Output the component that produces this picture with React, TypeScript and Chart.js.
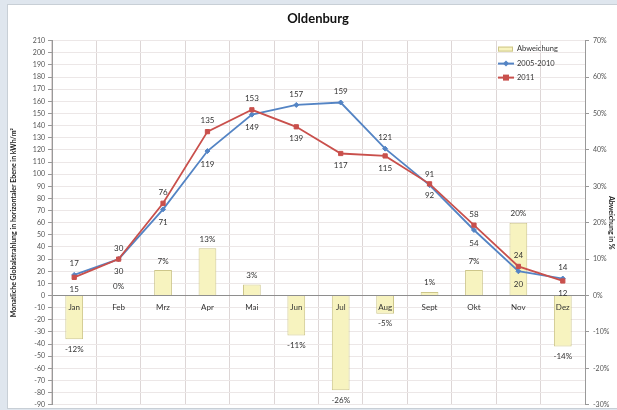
import React, { useEffect, useRef } from "react";
import { Chart, registerables } from "chart.js";

Chart.register(...registerables);

const months = ["Jan", "Feb", "Mrz", "Apr", "Mai", "Jun", "Jul", "Aug", "Sept", "Okt", "Nov", "Dez"];
const mittel20052010 = [17, 30, 71, 119, 149, 157, 159, 121, 91, 54, 20, 14];
const jahr2011 = [15, 30, 76, 135, 153, 139, 117, 115, 92, 58, 24, 12];
const abweichung = [-12, 0, 7, 13, 3, -11, -26, -5, 1, 7, 20, -14];

const leftMin = -90;
const leftMax = 210;
const rightMin = -30;
const rightMax = 70;

const FONT = "Lato, 'Open Sans', sans-serif";
const BLUE = "#5484c4";
const RED = "#c9504c";
const BAR_FILL = "#f7f3bf";
const BAR_BORDER = "#cdc68a";

const labelPlugin = {
  id: "valueLabels",
  afterDatasetsDraw(chart: any) {
    const ctx = chart.ctx;
    const barMeta = chart.getDatasetMeta(0);
    const blueMeta = chart.getDatasetMeta(1);
    const redMeta = chart.getDatasetMeta(2);
    ctx.save();
    ctx.font = `8px ${FONT}`;
    ctx.fillStyle = "#333";
    ctx.textAlign = "center";
    ctx.textBaseline = "middle";
    months.forEach((_, i) => {
      const b = mittel20052010[i];
      const r = jahr2011[i];
      const blueAbove = b + 1 >= r;
      const bp = blueMeta.data[i];
      const rp = redMeta.data[i];
      ctx.fillText(String(b), bp.x, bp.y + (blueAbove ? -11 : 13));
      ctx.fillText(String(r), rp.x, rp.y + (blueAbove ? 12 : -11));
      const bar = barMeta.data[i];
      const v = abweichung[i];
      ctx.fillText(v + "%", bar.x, v >= 0 ? bar.y - 9 : bar.y + 10);
    });
    ctx.restore();
  },
};

const legendPlugin = {
  id: "innerLegend",
  afterDraw(chart: any) {
    const ctx = chart.ctx;
    const lx = chart.chartArea.right - 87;
    const ly = chart.chartArea.top + 8;
    ctx.save();
    ctx.font = `7.5px ${FONT}`;
    ctx.fillStyle = "#333";
    ctx.textAlign = "left";
    ctx.textBaseline = "middle";
    // Abweichung
    ctx.fillStyle = BAR_FILL;
    ctx.fillRect(lx, ly - 2, 15, 5);
    ctx.strokeStyle = BAR_BORDER;
    ctx.lineWidth = 1;
    ctx.strokeRect(lx + 0.5, ly - 1.5, 14, 4);
    ctx.fillStyle = "#333";
    ctx.fillText("Abweichung", lx + 19, ly);
    // 2005-2010
    const y2 = ly + 15;
    ctx.strokeStyle = BLUE;
    ctx.lineWidth = 2;
    ctx.beginPath();
    ctx.moveTo(lx, y2);
    ctx.lineTo(lx + 16, y2);
    ctx.stroke();
    ctx.fillStyle = BLUE;
    ctx.beginPath();
    ctx.moveTo(lx + 8, y2 - 3);
    ctx.lineTo(lx + 11, y2);
    ctx.lineTo(lx + 8, y2 + 3);
    ctx.lineTo(lx + 5, y2);
    ctx.closePath();
    ctx.fill();
    ctx.fillStyle = "#333";
    ctx.fillText("2005-2010", lx + 19, y2);
    // 2011
    const y3 = ly + 29;
    ctx.strokeStyle = RED;
    ctx.beginPath();
    ctx.moveTo(lx, y3);
    ctx.lineTo(lx + 16, y3);
    ctx.stroke();
    ctx.fillStyle = RED;
    ctx.fillRect(lx + 5, y3 - 3, 6, 6);
    ctx.fillStyle = "#333";
    ctx.fillText("2011", lx + 19, y3);
    ctx.restore();
  },
};

export default function App() {
  const ref = useRef<HTMLCanvasElement>(null);

  useEffect(() => {
    document.body.style.margin = "0";
    document.body.style.background = "#dfe6ee";
    const canvas = ref.current;
    if (!canvas) return;
    const chart = new Chart(canvas, {
      data: {
        labels: months,
        datasets: [
          {
            type: "bar",
            label: "Abweichung",
            data: abweichung,
            yAxisID: "y2",
            backgroundColor: BAR_FILL,
            borderColor: BAR_BORDER,
            borderWidth: 1,
            barPercentage: 0.4,
            categoryPercentage: 1,
            order: 3,
          },
          {
            type: "line",
            label: "2005-2010",
            data: mittel20052010,
            yAxisID: "y",
            borderColor: BLUE,
            backgroundColor: BLUE,
            borderWidth: 1.8,
            pointStyle: "rectRot",
            pointRadius: 2.5,
            pointBorderWidth: 1,
            order: 2,
          },
          {
            type: "line",
            label: "2011",
            data: jahr2011,
            yAxisID: "y",
            borderColor: RED,
            backgroundColor: RED,
            borderWidth: 1.8,
            pointStyle: "rect",
            pointRadius: 3,
            pointBorderWidth: 1,
            order: 1,
          },
        ],
      } as any,
      options: {
        responsive: false,
        animation: false,
        devicePixelRatio: 1,
        layout: { padding: 0 },
        plugins: {
          legend: { display: false },
          tooltip: { enabled: false },
          title: {
            display: true,
            text: "Oldenburg",
            font: { family: FONT, size: 13, weight: "bold" },
            color: "#111",
            padding: { top: 6, bottom: 14 },
          },
        },
        scales: {
          x: {
            type: "category",
            position: { y: 0 },
            offset: true,
            grid: { offset: true, color: "#ddd6d6", drawTicks: false },
            border: { color: "#8e8e8e", width: 1 },
            ticks: {
              font: { family: FONT, size: 8 },
              color: "#333",
              padding: 7,
              z: 1,
              maxRotation: 0,
              autoSkip: false,
            },
          },
          y: {
            position: "left",
            min: leftMin,
            max: leftMax,
            ticks: {
              stepSize: 10,
              font: { family: FONT, size: 7 },
              color: "#555",
              padding: 3,
            },
            grid: { color: "#ece7e7", tickColor: "#999", tickLength: 4 },
            border: { color: "#999" },
            title: {
              display: true,
              text: "Monatliche Globalstrahlung in horizontaler Ebene in kWh/m²",
              font: { family: FONT, size: 7, weight: "bold" },
              color: "#222",
              padding: { top: 2, bottom: 0 },
            },
            afterFit: (s: any) => {
              s.width = 44;
            },
          },
          y2: {
            position: "right",
            min: rightMin,
            max: rightMax,
            ticks: {
              stepSize: 10,
              font: { family: FONT, size: 7 },
              color: "#555",
              padding: 4,
              callback: (v: any) => v + "%",
            },
            grid: { drawOnChartArea: false, tickColor: "#999", tickLength: 4 },
            border: { color: "#999" },
            title: {
              display: true,
              text: "Abweichung in %",
              font: { family: FONT, size: 7, weight: "bold" },
              color: "#222",
              padding: { top: 13, bottom: 0 },
            },
            afterFit: (s: any) => {
              s.width = 43;
            },
          },
        },
      } as any,
      plugins: [labelPlugin, legendPlugin],
    });
    return () => chart.destroy();
  }, []);

  return (
    <div
      style={{
        position: "relative",
        width: 617,
        height: 410,
        overflow: "hidden",
        background: "#dfe6ee",
      }}
    >
      <div
        style={{
          position: "absolute",
          left: 7,
          top: 4,
          width: 640,
          height: 403,
          background: "#fff",
          border: "1px solid #c8cfd6",
          overflow: "hidden",
        }}
      >
        <canvas ref={ref} width={620} height={408} style={{ display: "block" }} />
      </div>
    </div>
  );
}
